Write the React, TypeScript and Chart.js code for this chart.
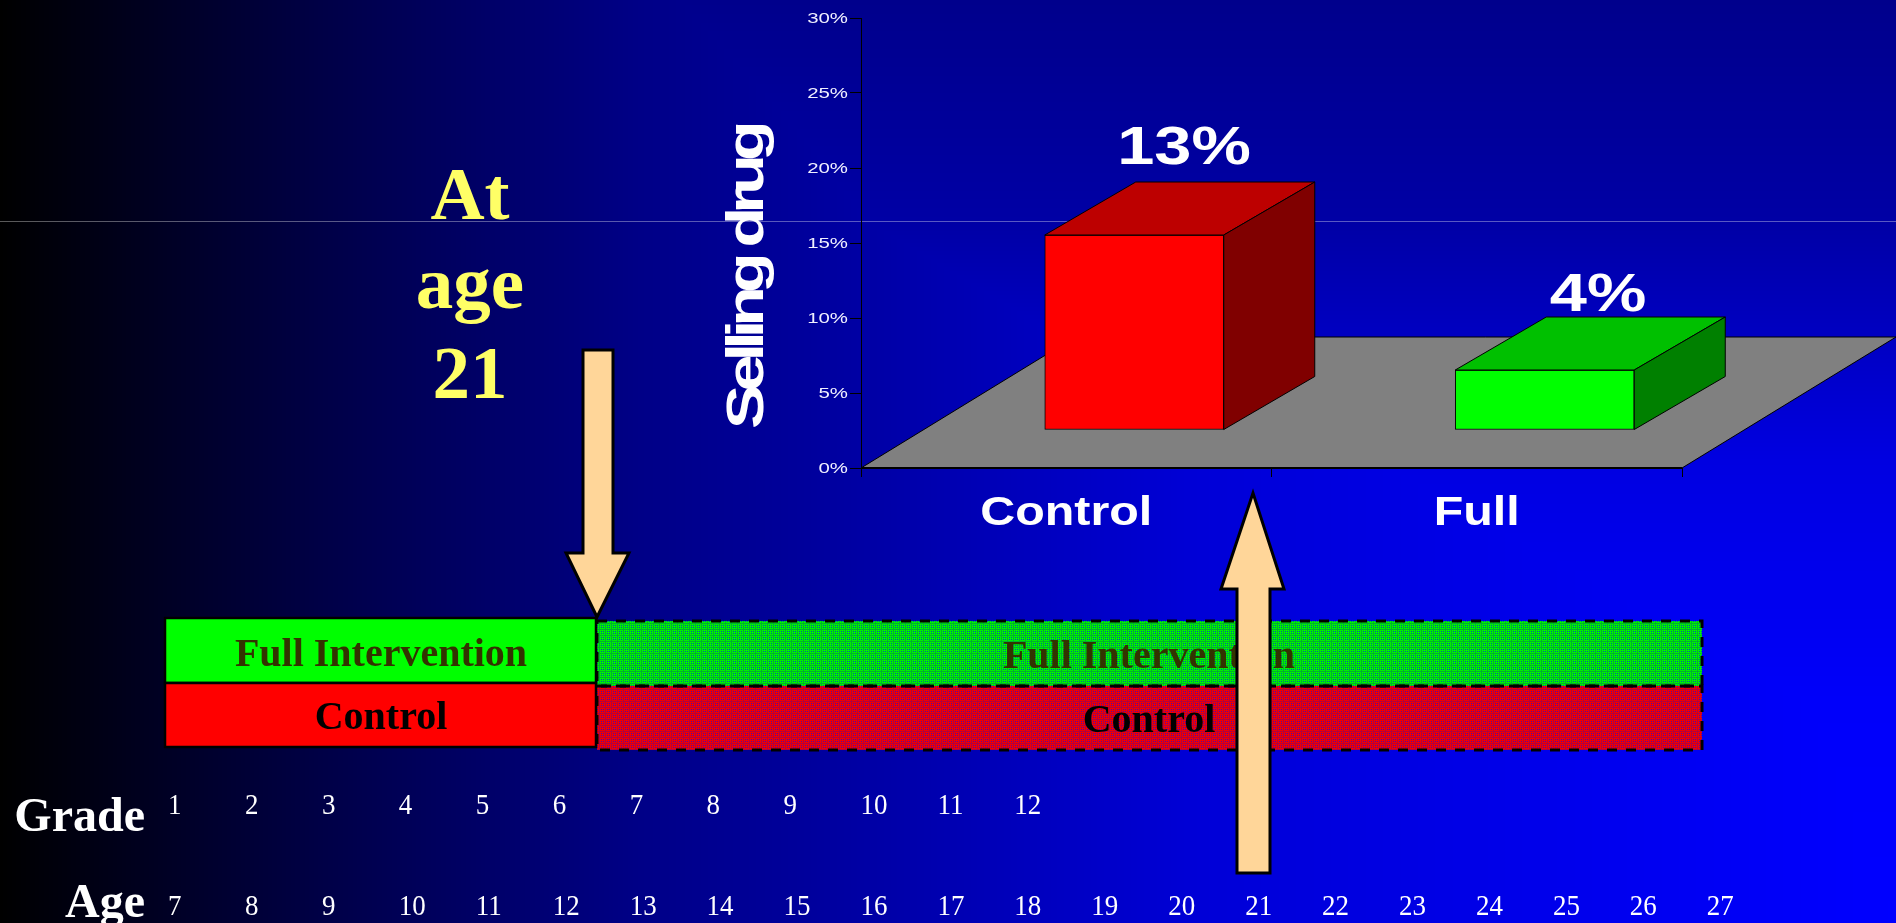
import React, { useEffect, useRef } from "react";
import { Chart, registerables } from "chart.js";

Chart.register(...registerables);

const W = 1896;
const H = 923;

// --- data ---
const categories = ["Control", "Full"];
const sellingDrugs = [13, 4];
const valueLabels = ["13%", "4%"];
const gradeLabels = ["1", "2", "3", "4", "5", "6", "7", "8", "9", "10", "11", "12"];
const ageLabels = ["7", "8", "9", "10", "11", "12", "13", "14", "15", "16", "17", "18", "19", "20", "21", "22", "23", "24", "25", "26", "27"];
const headlineLines = ["At", "age", "21"];
const axisTitle = "Selling drug";
const groupFull = "Full Intervention";
const groupControl = "Control";

// --- style ---
const SANS = "'Liberation Sans', Arial, sans-serif";
const SERIF = "'Liberation Serif', 'Times New Roman', serif";
const frontColors = ["#ff0000", "#00ff00"];
const topColors = ["#bd0000", "#00c000"];
const sideColors = ["#800000", "#008000"];
const labelBaselines = [164, 311];
const labelCentres = [1184, 1598];
const barShift = { x: 68, y: -38 };
const barDepth = { x: 91, y: -53 };
const floorDepth = { x: 214, y: -131 };
const xRamp: number[][] = [[0, 0], [320, 70], [640, 135], [800, 155], [1200, 215], [1896, 255]];
const yRamp: number[][] = [[0, 140], [221, 165], [460, 225], [700, 250], [923, 255]];

const ramp = (table: number[][], v: number) => {
  for (let i = 1; i < table.length; i++) {
    if (v <= table[i][0]) {
      const [a, b] = table[i - 1];
      const [c, d] = table[i];
      return b + ((d - b) * (v - a)) / (c - a);
    }
  }
  return table[table.length - 1][1];
};

const stretchText = (ctx: CanvasRenderingContext2D, text: string, x: number, y: number, sx: number) => {
  ctx.save();
  ctx.translate(x, y);
  ctx.scale(sx, 1);
  ctx.fillText(text, 0, 0);
  ctx.restore();
};

const stretchLabels = (scale: any, sx: number, dy: number) => {
  if (scale.__stretched) return;
  scale.__stretched = true;
  const original = scale.drawLabels;
  scale.drawLabels = function (area: any) {
    const ctx = this.ctx;
    const items = this.getLabelItems(area);
    for (const item of items) {
      const px = item.options.translation[0];
      ctx.save();
      ctx.translate(px, dy);
      ctx.scale(sx, 1);
      ctx.translate(-px, 0);
      this._labelItems = [item];
      original.call(this, area);
      ctx.restore();
    }
    this._labelItems = items;
  };
};

const makePattern = (ctx: CanvasRenderingContext2D, base: string, dot: string, line: string) => {
  const c = document.createElement("canvas");
  c.width = 6;
  c.height = 6;
  const g = c.getContext("2d")!;
  g.fillStyle = base;
  g.fillRect(0, 0, 6, 6);
  g.fillStyle = dot;
  for (let y = 1; y < 6; y += 2) for (let x = 1; x < 6; x += 2) g.fillRect(x, y, 1, 1);
  g.fillStyle = line;
  g.fillRect(5, 0, 1, 6);
  g.fillRect(0, 5, 6, 1);
  return ctx.createPattern(c, "repeat")!;
};

const polygon = (ctx: CanvasRenderingContext2D, pts: number[][], fill: string, lineWidth = 1) => {
  ctx.beginPath();
  pts.forEach(([x, y], i) => (i ? ctx.lineTo(x, y) : ctx.moveTo(x, y)));
  ctx.closePath();
  ctx.fillStyle = fill;
  ctx.fill();
  ctx.lineWidth = lineWidth;
  ctx.strokeStyle = "#000";
  ctx.stroke();
};

const slidePlugin = {
  id: "slide",
  afterLayout(chart: any) {
    stretchLabels(chart.scales.y, 1.36, 1);
    stretchLabels(chart.scales.x, 1.21, 0);
  },
  beforeDraw(chart: any) {
    const ctx: CanvasRenderingContext2D = chart.ctx;
    const img = ctx.createImageData(W, H);
    for (let y = 0; y < H; y++) {
      const b = ramp(yRamp, y);
      for (let x = 0; x < W; x++) {
        const i = (y * W + x) * 4;
        img.data[i + 2] = Math.min(ramp(xRamp, x), b);
        img.data[i + 3] = 255;
      }
    }
    ctx.putImageData(img, 0, 0);
    ctx.fillStyle = "rgba(255,255,255,0.35)";
    ctx.fillRect(0, 221, W, 1);
  },
  beforeDatasetsDraw(chart: any) {
    const { ctx, chartArea: a } = chart;
    polygon(
      ctx,
      [
        [a.left, a.bottom],
        [a.right, a.bottom],
        [a.right + floorDepth.x, a.bottom + floorDepth.y],
        [a.left + floorDepth.x, a.bottom + floorDepth.y],
      ],
      "#808080"
    );
    ctx.fillStyle = "#000";
    ctx.fillRect(a.left, a.bottom - 1, a.right - a.left, 2);
  },
  beforeDatasetDraw(chart: any) {
    chart.ctx.save();
    chart.ctx.translate(barShift.x, barShift.y);
  },
  afterDatasetDraw(chart: any, args: any) {
    const ctx: CanvasRenderingContext2D = chart.ctx;
    args.meta.data.forEach((bar: any, i: number) => {
      const l = bar.x - bar.width / 2;
      const r = bar.x + bar.width / 2;
      const t = bar.y;
      const b = bar.base;
      const dx = barDepth.x;
      const dy = barDepth.y;
      polygon(ctx, [[l, t], [r, t], [r + dx, t + dy], [l + dx, t + dy]], topColors[i]);
      polygon(ctx, [[r, t], [r + dx, t + dy], [r + dx, b + dy], [r, b]], sideColors[i]);
    });
    ctx.restore();
  },
  afterDraw(chart: any) {
    const ctx: CanvasRenderingContext2D = chart.ctx;
    ctx.save();
    ctx.textBaseline = "alphabetic";

    // bar value labels
    ctx.fillStyle = "#fff";
    ctx.font = `bold 53px ${SANS}`;
    ctx.textAlign = "center";
    valueLabels.forEach((t, i) => stretchText(ctx, t, labelCentres[i], labelBaselines[i], 1.26));

    // axis title
    ctx.save();
    ctx.translate(763, 429);
    ctx.rotate(-Math.PI / 2);
    ctx.scale(1.28, 1);
    ctx.textAlign = "left";
    ctx.font = `bold 52px ${SANS}`;
    (ctx as any).letterSpacing = "-5.4px";
    ctx.fillText(axisTitle, 0, 0);
    ctx.restore();

    // headline
    ctx.fillStyle = "#ffff66";
    ctx.font = `bold 75px ${SERIF}`;
    ctx.textAlign = "center";
    [219, 308, 398].forEach((y, i) => ctx.fillText(headlineLines[i], 470, y));

    // timeline: dashed (post-intervention)
    const greenPat = makePattern(ctx, "#00f000", "#0050b0", "#00b030");
    const redPat = makePattern(ctx, "#f00000", "#5000b0", "#b00040");
    ctx.fillStyle = greenPat;
    ctx.fillRect(597, 621, 1105, 65);
    ctx.fillStyle = redPat;
    ctx.fillRect(597, 686, 1105, 64);
    ctx.setLineDash([10, 9]);
    ctx.lineWidth = 3;
    ctx.strokeStyle = "#000";
    ctx.strokeRect(597, 621, 1105, 65);
    ctx.strokeRect(597, 686, 1105, 64);
    ctx.setLineDash([]);

    // timeline: solid (intervention)
    ctx.lineWidth = 2.5;
    ctx.fillStyle = "#00ff00";
    ctx.fillRect(165, 618, 431, 65);
    ctx.strokeRect(165, 618, 431, 65);
    ctx.fillStyle = "#ff0000";
    ctx.fillRect(165, 683, 431, 64);
    ctx.strokeRect(165, 683, 431, 64);

    ctx.font = `bold 40px ${SERIF}`;
    ctx.textAlign = "center";
    ctx.fillStyle = "#333300";
    ctx.fillText(groupFull, 381, 666);
    ctx.fillText(groupFull, 1149, 668);
    ctx.fillStyle = "#000";
    ctx.fillText(groupControl, 381, 729);
    ctx.fillText(groupControl, 1149, 732);

    // rows
    ctx.fillStyle = "#fff";
    ctx.font = `bold 48px ${SERIF}`;
    ctx.textAlign = "right";
    ctx.fillText("Grade", 145, 831);
    ctx.fillText("Age", 145, 917);
    ctx.font = `29px ${SERIF}`;
    ctx.textAlign = "left";
    gradeLabels.forEach((t, i) => stretchText(ctx, t, 168 + 76.94 * i, 814, 0.93));
    ageLabels.forEach((t, i) => stretchText(ctx, t, 168 + 76.94 * i, 915, 0.93));

    // arrows
    const peach = "#ffd699";
    polygon(
      ctx,
      [[583, 350], [613, 350], [613, 553], [629, 553], [597, 617], [566, 553], [583, 553]],
      peach,
      3
    );
    polygon(
      ctx,
      [[1237, 873], [1270, 873], [1270, 589], [1284, 589], [1253, 493], [1221, 589], [1237, 589]],
      peach,
      3
    );
    ctx.restore();
  },
};

export default function App() {
  const ref = useRef<HTMLCanvasElement>(null);
  useEffect(() => {
    const chart = new Chart(ref.current!, {
      type: "bar",
      data: {
        labels: categories,
        datasets: [
          {
            label: "Selling drugs",
            data: sellingDrugs,
            backgroundColor: frontColors,
            borderColor: "#000",
            borderWidth: 1,
            borderSkipped: false,
            barThickness: 179,
            clip: false,
          } as any,
        ],
      },
      options: {
        responsive: false,
        animation: false,
        devicePixelRatio: 1,
        layout: { padding: { top: 18, right: 214, left: 0, bottom: 0 } },
        plugins: { legend: { display: false }, tooltip: { enabled: false }, title: { display: false } },
        scales: {
          x: {
            afterFit: (s: any) => {
              s.height = 455;
            },
            grid: { offset: true, drawOnChartArea: false, color: "#000", tickLength: 9 },
            border: { color: "#000", width: 1 },
            ticks: {
              color: "#fff",
              font: { family: SANS, size: 40, weight: "bold" },
              padding: 13,
              maxRotation: 0,
              autoSkip: false,
            },
          },
          y: {
            min: 0,
            max: 30,
            afterFit: (s: any) => {
              s.width = 861;
            },
            grid: { drawOnChartArea: false, color: "#000", tickLength: 11 },
            border: { color: "#000", width: 1 },
            ticks: {
              stepSize: 5,
              color: "#f0f0ff",
              font: { family: SANS, size: 15 },
              padding: 2,
              callback: (v: any) => `${v}%`,
            },
          },
        },
      },
      plugins: [slidePlugin],
    } as any);
    return () => chart.destroy();
  }, []);
  return (
    <canvas
      ref={ref}
      width={W}
      height={H}
      style={{ position: "fixed", left: 0, top: 0, width: W, height: H, display: "block" }}
    />
  );
}
